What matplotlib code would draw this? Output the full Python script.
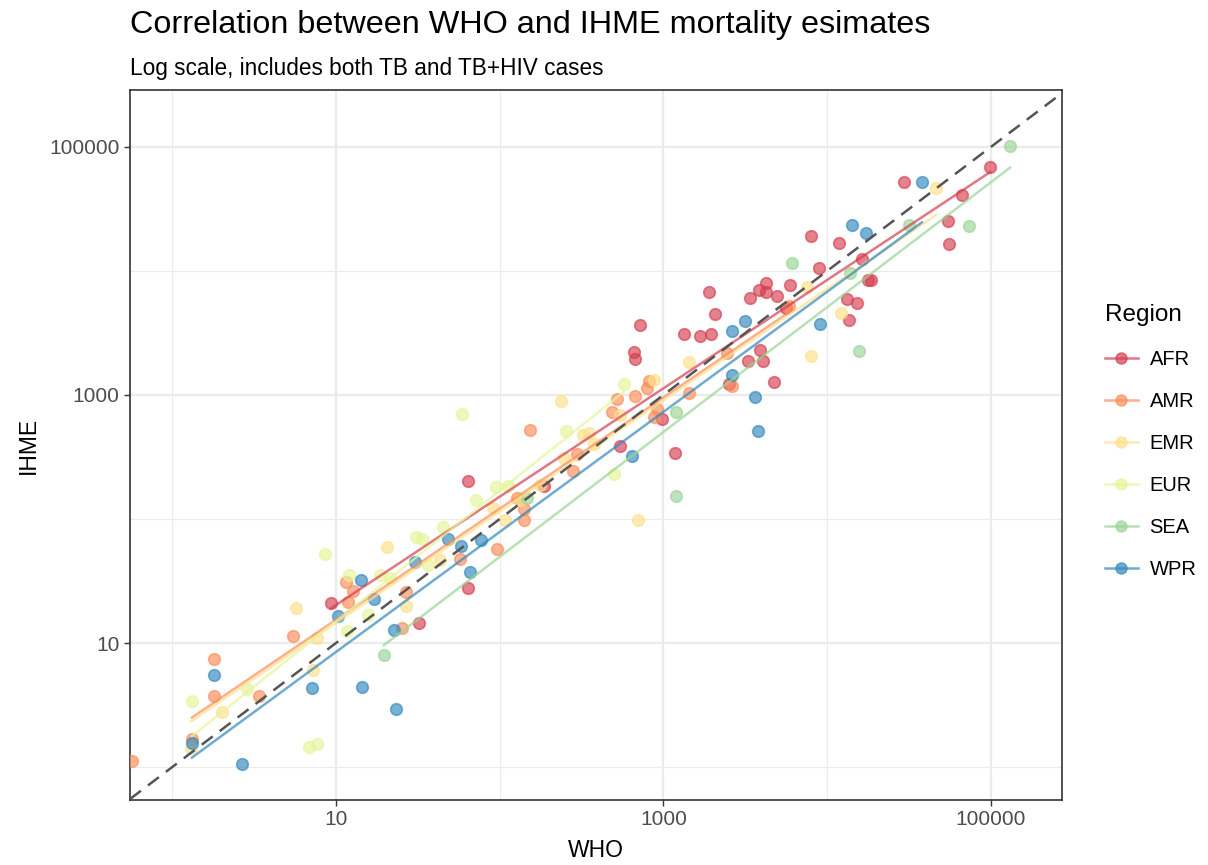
import numpy as np
import matplotlib.pyplot as plt
from matplotlib.lines import Line2D

plt.rcParams['font.family'] = ['Liberation Sans', 'DejaVu Sans']

regions = ["AFR", "AMR", "EMR", "EUR", "SEA", "WPR"]
colors = ["#D53E4F", "#FC8D59", "#FEE08B", "#E6F598", "#99D594", "#3288BD"]

# WHO / IHME estimates
afr_who = [99000, 66500, 54600, 55300, 29400, 7960, 11800, 8900, 16300, 17700, 18500,
           4230, 3830, 4230, 4930, 5930, 3370, 13200, 15200, 13600, 5600, 1900, 2070,
           718, 1330, 1670, 1950, 661, 670, 3280, 3880, 4060, 4730, 2510, 980, 542,
           1175, 64, 186, 9.3, 32, 64]
afr_ihme = [69000, 41000, 25300, 16500, 52200, 19100, 16800, 10600, 12500, 8450, 8450,
            8000, 7030, 6780, 6280, 7710, 6050, 5940, 5520, 4030, 5040, 6780, 4500,
            3670, 3100, 2990, 3100, 2220, 1950, 1880, 2310, 1880, 1270, 1230, 640, 388,
            340, 202, 185, 21, 14.5, 27.8]

amr_who = [5840, 2440, 2620, 815, 793, 520, 670, 485, 1430, 875, 912, 153, 280, 296,
           127, 141, 141, 96, 57, 25.3, 26.7, 11.5, 12.7, 11.8, 5.5, 3.39, 1.8, 1.8,
           1.32, 0.567]
amr_ihme = [5220, 2180, 1180, 1300, 1140, 930, 982, 730, 1040, 665, 771, 523, 244, 334,
            148, 120, 98, 57.3, 47.5, 13.2, 25.8, 31, 26.2, 21.4, 11.4, 3.74, 7.4, 3.74,
            1.68, 1.12]

emr_who = [46200, 7510, 12100, 7960, 1430, 875, 237, 322, 351, 377, 247, 698, 20.5,
           5.7, 7.66, 7.24, 2.01, 26.7, 91, 133, 108, 43, 176, 542, 1.30]
emr_ihme = [46700, 7430, 4580, 2070, 1850, 1320, 895, 475, 494, 403, 310, 98, 59.4,
            19.1, 11, 6.05, 2.78, 19.9, 123, 142, 98, 46.7, 188, 690, 1.42]

eur_who = [58.8, 574, 254, 499, 95, 112, 45, 8.57, 30.8, 33.5, 12, 11.7, 15.7, 18.6,
           21.4, 6.85, 7.66, 2.87, 1.32, 36.5, 71.6]
eur_ihme = [703, 1230, 513, 231, 181, 185, 86, 52, 71.6, 69, 35.3, 12.5, 16.8, 35.3,
            33.4, 1.45, 1.53, 4.26, 3.41, 42.6, 142]

sea_who = [131000, 73400, 31500, 6100, 13800, 15600, 1190, 1190, 147, 19.6]
sea_ihme = [102000, 23100, 23500, 11600, 9640, 2260, 730, 153, 148, 8.0]

wpr_who = [37900, 14200, 17300, 9040, 3620, 3780, 3150, 2620, 2620, 643, 48, 58, 77,
           65.8, 30.3, 14.2, 17.1, 10.3, 22.6, 14.4, 7.1, 23.2, 1.8, 1.32, 2.67]
wpr_ihme = [52200, 23500, 20200, 3740, 964, 513, 3950, 3280, 1450, 322, 69, 60.5, 67.8,
            37.4, 45, 32.2, 22.6, 16.5, 12.7, 4.4, 4.3, 2.94, 5.5, 1.56, 1.06]

who = [afr_who, amr_who, emr_who, eur_who, sea_who, wpr_who]
ihme = [afr_ihme, amr_ihme, emr_ihme, eur_ihme, sea_ihme, wpr_ihme]

fig = plt.figure(figsize=(12.08, 8.65), dpi=100)
ax = fig.add_axes([0.1076, 0.0751, 0.7715, 0.8209])

ax.set_xscale('log')
ax.set_yscale('log')
ax.set_xlim(0.552, 271600)
ax.set_ylim(0.542, 288000)

# grid like theme_bw
for v in [1, 100, 10000]:
    ax.axvline(v, color='#EBEBEB', lw=0.8, zorder=0)
    ax.axhline(v, color='#EBEBEB', lw=0.8, zorder=0)
for v in [10, 1000, 100000]:
    ax.axvline(v, color='#EBEBEB', lw=1.6, zorder=0)
    ax.axhline(v, color='#EBEBEB', lw=1.6, zorder=0)

for i, reg in enumerate(regions):
    x = np.array(who[i])
    y = np.array(ihme[i])
    ax.scatter(x, y, s=70, color=colors[i], edgecolors=colors[i], linewidths=1.2,
               alpha=0.65, zorder=3)
    # linear fit on log scale, like geom_smooth(method = "lm")
    b, a = np.polyfit(np.log10(x), np.log10(y), 1)
    xin = x[x >= 1]
    xs = np.array([xin.min(), xin.max()])
    ax.plot(xs, 10 ** (a + b * np.log10(xs)), color=colors[i], lw=1.8, alpha=0.7,
            zorder=4)

ax.axline((1, 1), (10, 10), color='#555555', lw=1.8, ls=(0, (5.5, 3.5)), zorder=5)

ax.set_xticks([10, 1000, 100000])
ax.set_xticklabels(["10", "1000", "100000"])
ax.set_yticks([10, 1000, 100000])
ax.set_yticklabels(["10", "1000", "100000"])
ax.minorticks_off()
ax.tick_params(axis='both', labelsize=15, labelcolor='#4D4D4D', color='#333333',
               length=4, width=1)

for sp in ax.spines.values():
    sp.set_color('#333333')
    sp.set_linewidth(1.2)

ax.set_xlabel("WHO", fontsize=16.5, labelpad=7)
ax.set_ylabel("IHME", fontsize=16.5, labelpad=7)

fig.text(0.1076, 0.971, "Correlation between WHO and IHME mortality esimates",
         fontsize=23.3, va='center', ha='left')
fig.text(0.1076, 0.921, "Log scale, includes both TB and TB+HIV cases",
         fontsize=16.3, va='center', ha='left')

handles = [Line2D([0], [0], color=c, lw=1.8, alpha=0.7, marker='o', markersize=8,
                  markerfacecolor=c, markeredgecolor=c) for c in colors]
leg = fig.legend(handles, regions, title="Region", loc='upper left',
                 bbox_to_anchor=(0.9, 0.669), frameon=False, fontsize=14.5,
                 title_fontsize=17.5, handlelength=1.6, labelspacing=1.15,
                 handletextpad=0.6, alignment='left')

fig.savefig("out.png", dpi=100)
